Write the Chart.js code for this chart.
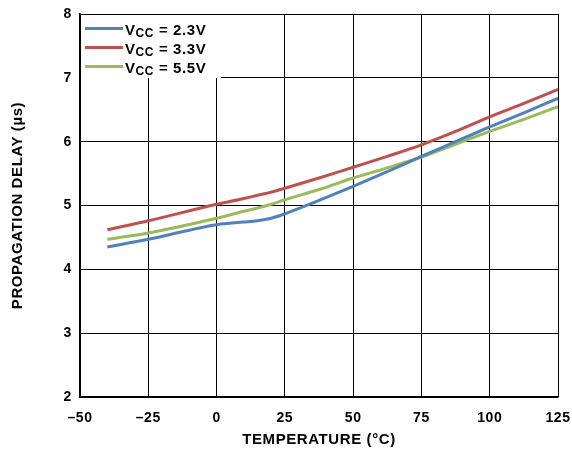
<!DOCTYPE html>
<html>
<head>
<meta charset="utf-8">
<script src="https://cdn.jsdelivr.net/npm/chart.js@4.4.1/dist/chart.umd.min.js"></script>
<style>
  html, body { margin: 0; padding: 0; background: #fff; }
  #wrap { width: 572px; height: 450px; }
</style>
</head>
<body>
<div id="wrap"><canvas id="c" width="572" height="450"></canvas></div>
<script>
// Temperature sweep (°C) shared by all three supply curves
const temperatureC = [-40, -25, 0, 10, 15, 20, 25, 37.5, 50, 62.5, 75, 87.5, 100, 112.5, 125];

// Propagation delay (µs) for each supply voltage
const delayVcc23 = [4.35, 4.47, 4.70, 4.74, 4.76, 4.80, 4.87, 5.08, 5.30, 5.53, 5.77, 6.00, 6.23, 6.45, 6.68];
const delayVcc33 = [4.62, 4.76, 5.02, 5.11, 5.16, 5.21, 5.27, 5.43, 5.60, 5.77, 5.95, 6.16, 6.39, 6.60, 6.82];
const delayVcc55 = [4.47, 4.57, 4.80, 4.91, 4.96, 5.02, 5.09, 5.25, 5.43, 5.59, 5.76, 5.96, 6.16, 6.35, 6.55];

// Legend entries: supply voltage value per series
const supplyLabels = ['2.3V', '3.3V', '5.5V'];
const seriesColors = ['#4F81BD', '#C0504D', '#9BBB59'];

const xTicks = [-50, -25, 0, 25, 50, 75, 100, 125];
const yTicks = [2, 3, 4, 5, 6, 7, 8];

const FONT = '"Liberation Sans", Arial, Helvetica, sans-serif';
const LETTER_SPACING = '0.6px';

function toPoints(values) {
  return temperatureC.map((t, i) => ({ x: t, y: values[i] }));
}

// Slightly tracked-out lettering for all chart text
const textTracking = {
  id: 'textTracking',
  beforeLayout(chart) { chart.ctx.letterSpacing = LETTER_SPACING; },
  beforeDraw(chart) { chart.ctx.letterSpacing = LETTER_SPACING; }
};

// Inset legend with subscripted V_CC labels, drawn over the grid
const insetLegend = {
  id: 'insetLegend',
  beforeDatasetsDraw(chart) {
    const ctx = chart.ctx;
    const area = chart.chartArea;
    ctx.save();
    ctx.fillStyle = '#ffffff';
    ctx.fillRect(area.left + 1, area.top + 1, 221 - area.left - 1, 78 - area.top - 1);
    ctx.letterSpacing = '0.6px';
    const rowY = [28.5, 47.5, 66.5];
    chart.data.datasets.forEach((ds, i) => {
      const y = rowY[i];
      ctx.strokeStyle = ds.borderColor;
      ctx.lineWidth = 3;
      ctx.beginPath();
      ctx.moveTo(85, y);
      ctx.lineTo(123, y);
      ctx.stroke();
      ctx.fillStyle = '#000';
      ctx.textBaseline = 'alphabetic';
      ctx.textAlign = 'left';
      let x = 125;
      ctx.font = 'bold 15px ' + FONT;
      ctx.fillText('V', x, y + 6);
      x += ctx.measureText('V').width;
      ctx.font = 'bold 12px ' + FONT;
      ctx.fillText('CC', x, y + 8.5);
      x += ctx.measureText('CC').width;
      ctx.font = 'bold 15px ' + FONT;
      ctx.fillText(' = ' + supplyLabels[i], x, y + 6);
    });
    ctx.restore();
  }
};

new Chart(document.getElementById('c'), {
  type: 'line',
  data: {
    datasets: [delayVcc23, delayVcc33, delayVcc55].map((vals, i) => ({
      label: 'VCC = ' + supplyLabels[i],
      data: toPoints(vals),
      borderColor: seriesColors[i],
      backgroundColor: seriesColors[i],
      borderWidth: 3,
      pointRadius: 0,
      cubicInterpolationMode: 'monotone',
      fill: false
    }))
  },
  options: {
    responsive: false,
    animation: false,
    devicePixelRatio: 1,
    layout: { padding: { left: 0, right: 14, top: 14, bottom: 0 } },
    plugins: { legend: { display: false }, tooltip: { enabled: false } },
    scales: {
      x: {
        type: 'linear',
        min: -50,
        max: 125,
        afterBuildTicks(scale) { scale.ticks = xTicks.map(v => ({ value: v })); },
        afterFit(scale) {
          scale.height = 53;
          scale.paddingLeft = 0;
          scale.paddingRight = 0;
        },
        ticks: {
          color: '#000',
          font: { family: FONT, size: 14, weight: 'bold' },
          padding: 13,
          maxRotation: 0,
          callback: v => (v < 0 ? '\u2013' + Math.abs(v) : String(v))
        },
        grid: { color: '#000', lineWidth: 1, drawTicks: false },
        border: { color: '#000', width: 1.5 },
        title: {
          display: true,
          text: 'TEMPERATURE (°C)',
          color: '#000',
          font: { family: FONT, size: 15, weight: 'bold' },
          padding: { top: 4, bottom: 1.5 }
        }
      },
      y: {
        min: 2,
        max: 8,
        afterBuildTicks(scale) { scale.ticks = yTicks.map(v => ({ value: v })); },
        afterFit(scale) {
          scale.width = 80;
          scale.paddingTop = 0;
          scale.paddingBottom = 0;
        },
        ticks: {
          color: '#000',
          font: { family: FONT, size: 14, weight: 'bold' },
          padding: 8
        },
        grid: { color: '#000', lineWidth: 1, drawTicks: false },
        border: { color: '#000', width: 1.5 },
        title: {
          display: true,
          text: 'PROPAGATION DELAY (µs)',
          color: '#000',
          font: { family: FONT, size: 15, weight: 'bold' },
          padding: { top: 9, bottom: 0 }
        }
      }
    }
  },
  plugins: [textTracking, insetLegend]
});
</script>
</body>
</html>
